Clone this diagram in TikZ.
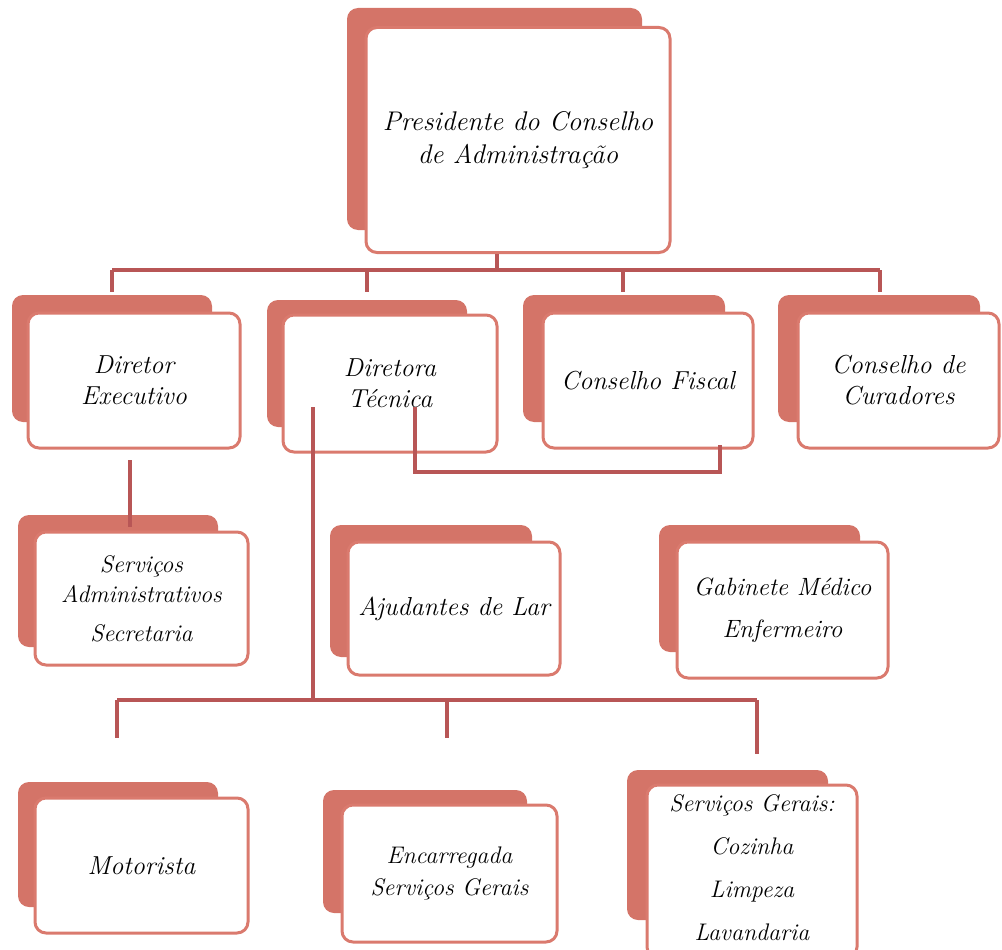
\documentclass[tikz,border=0pt]{standalone}
\usepackage{fontspec}
\usetikzlibrary{calc}
\definecolor{salmon}{RGB}{212,116,104}
\definecolor{edgecol}{RGB}{218,122,110}
\definecolor{linkcol}{RGB}{184,86,86}
\tikzset{
  backbox/.style={fill=salmon, draw=none, rounded corners=11pt, inner sep=0pt},
  frontbox/.style={fill=white, draw=edgecol, line width=3pt, rounded corners=11pt, inner sep=0pt, align=center, font=\fontsize{26}{31}\selectfont\itshape},
  textonly/.style={inner sep=0pt, align=center, font=\fontsize{24}{43}\selectfont\itshape},
  link/.style={draw=linkcol, line width=4.5pt}
}
\begin{document}
\begin{tikzpicture}[x=1pt,y=-1pt]
\useasboundingbox (0,0) rectangle (1002,950);
% back boxes
\node[backbox, minimum width=295pt, minimum height=222pt] (presB) at (494.5,119) {};
\node[backbox, minimum width=200pt, minimum height=127pt] (dexB) at (112,358.5) {};
\node[backbox, minimum width=200pt, minimum height=127pt] (dtecB) at (367,363.5) {};
\node[backbox, minimum width=202pt, minimum height=127pt] (fisB) at (624,358.5) {};
\node[backbox, minimum width=202pt, minimum height=127pt] (curB) at (879,358.5) {};
\node[backbox, minimum width=200pt, minimum height=132pt] (admB) at (118,581) {};
\node[backbox, minimum width=202pt, minimum height=132pt] (ajuB) at (431,591) {};
\node[backbox, minimum width=201pt, minimum height=127pt] (gabB) at (759.5,588.5) {};
\node[backbox, minimum width=200pt, minimum height=125pt] (motB) at (118,844.5) {};
\node[backbox, minimum width=204pt, minimum height=123pt] (encB) at (425,851.5) {};
\node[backbox, minimum width=201pt, minimum height=150pt] (sgB) at (727.5,845) {};
% connector points
\coordinate (bus1) at (497,270);
\coordinate (t1) at (112,292);
\coordinate (t2) at (367,292);
\coordinate (t3) at (623,292);
\coordinate (t4) at (880,292);
\coordinate (busL) at (112,270);
\coordinate (busR) at (880,270);
\coordinate (bus2) at (313,700);
\coordinate (b2L) at (117,700);
\coordinate (b2R) at (757,700);
\coordinate (u1) at (117,738);
\coordinate (u2) at (447,738);
\coordinate (u3) at (757,754);
\coordinate (tecA) at (313,407);
\coordinate (tecB) at (415,407);
\coordinate (k1) at (415,472);
\coordinate (k2) at (720,472);
\coordinate (fisP) at (720,445);
\coordinate (dexP) at (130,460);
\coordinate (admP) at (130,527);
% front boxes
\node[frontbox, minimum width=304pt, minimum height=225pt, font=\fontsize{27}{33}\selectfont\itshape] (pres) at (518,140) {Presidente do Conselho\\de Administração};
\node[frontbox, minimum width=212pt, minimum height=135pt] (dex) at (134,380.5) {Diretor\\Executivo};
\node[frontbox, minimum width=214pt, minimum height=137pt] (dtec) at (390,383.5) {Diretora\\Técnica};
\node[frontbox, minimum width=210pt, minimum height=135pt] (fis) at (648,380.5) {Conselho Fiscal};
\node[frontbox, minimum width=201pt, minimum height=135pt] (cur) at (898.5,380.5) {Conselho de\\Curadores};
\node[frontbox, minimum width=213pt, minimum height=133pt, font=\fontsize{24}{30}\selectfont\itshape] (adm) at (141.5,598.5) {Serviços\\Administrativos\\[9pt]Secretaria};
\node[frontbox, minimum width=212pt, minimum height=133pt] (aju) at (454,608.5) {Ajudantes de Lar};
\node[frontbox, minimum width=211pt, minimum height=136pt, font=\fontsize{25}{42}\selectfont\itshape] (gab) at (782.5,610) {Gabinete Médico\\Enfermeiro};
\node[frontbox, minimum width=213pt, minimum height=135pt] (mot) at (141.5,865.5) {Motorista};
\node[frontbox, minimum width=215pt, minimum height=137pt, font=\fontsize{24}{32}\selectfont\itshape] (enc) at (449.5,873.5) {Encarregada\\Serviços Gerais};
\node[frontbox, minimum width=210pt, minimum height=173pt] (sg) at (752,871.5) {};
\node[textonly, anchor=base] (sgT) at (752,940) {Serviços Gerais:\\Cozinha\\Limpeza\\Lavandaria};
% connectors
\draw[link] (pres.south -| bus1) -- (bus1);
\draw[link] (busL) -- (busR);
\draw[link] (busL) -- (t1);
\draw[link] (bus1 -| t2) -- (t2);
\draw[link] (bus1 -| t3) -- (t3);
\draw[link] (busR) -- (t4);
\draw[link] (dexP) -- (admP);
\draw[link] (tecA) -- (bus2);
\draw[link] (b2L) -- (b2R);
\draw[link] (b2L) -- (u1);
\draw[link] (bus2 -| u2) -- (u2);
\draw[link] (b2R) -- (u3);
\draw[link] (tecB) -- (k1) -- (k2) -- (fisP);
\end{tikzpicture}
\end{document}
